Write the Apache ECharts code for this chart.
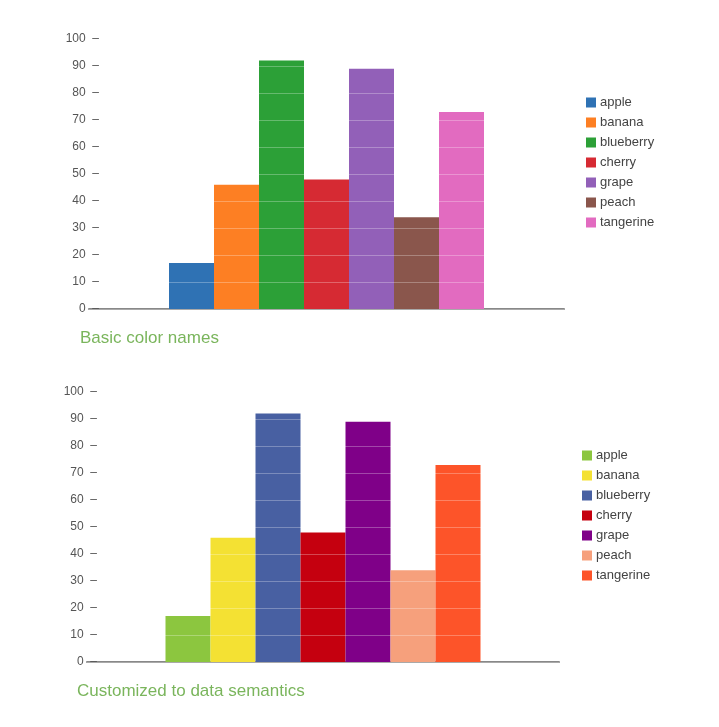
<!DOCTYPE html>
<html>
<head>
<meta charset="utf-8">
<script src="https://cdn.jsdelivr.net/npm/echarts@6/dist/echarts.min.js"></script>
<style>
  html, body { margin: 0; padding: 0; background: #fff; }
  #top, #bottom { width: 719px; height: 360px; }
  #bottom { height: 367px; }
</style>
</head>
<body>
<div id="top"></div>
<div id="bottom"></div>
<script>
// fruit data, same values for both charts
var fruits = ['apple', 'banana', 'blueberry', 'cherry', 'grape', 'peach', 'tangerine'];
var counts = [17, 46, 92, 48, 89, 34, 73];
var yTicks = [0, 10, 20, 30, 40, 50, 60, 70, 80, 90, 100];

// default palette vs. colours picked for the meaning of each fruit
var basicColors = ['#2f72b4', '#fd7f23', '#2ca037', '#d62a33', '#9260b8', '#8a564c', '#e26bc0'];
var semanticColors = ['#8cc63f', '#f4e133', '#4860a2', '#c5000f', '#7f0088', '#f6a07c', '#fd5429'];

function makeOption(colors, title, grid) {
    return {
        animation: false,
        textStyle: { fontFamily: 'Liberation Sans, Arial, sans-serif' },
        title: {
            text: title,
            left: grid.titleLeft,
            top: grid.titleTop,
            textStyle: { color: '#7ab55c', fontSize: 17, fontWeight: 'normal' }
        },
        legend: {
            orient: 'vertical',
            left: grid.legendLeft,
            top: grid.legendTop,
            icon: 'rect',
            itemWidth: 10,
            itemHeight: 10,
            itemGap: 7,
            textStyle: { color: '#444', fontSize: 13, padding: [0, 0, 0, -1] },
            data: fruits
        },
        grid: { left: grid.left, right: grid.right, top: grid.top, height: 270 },
        xAxis: {
            type: 'category',
            data: [''],
            axisLine: { lineStyle: { color: '#888', width: 2 } },
            axisTick: { show: false },
            axisLabel: { show: false }
        },
        yAxis: {
            type: 'value',
            min: yTicks[0],
            max: yTicks[yTicks.length - 1],
            interval: 10,
            z: 5,
            axisLine: { show: false },
            axisTick: { show: false },
            axisLabel: {
                color: '#555',
                fontSize: 12,
                margin: -10,
                formatter: '{value}  –'
            },
            splitLine: { lineStyle: { color: 'rgba(255,255,255,0.28)', width: 1 } }
        },
        series: fruits.map(function (name, i) {
            return {
                name: name,
                type: 'bar',
                data: [counts[i]],
                barWidth: 45,
                barGap: '0%',
                itemStyle: { color: colors[i] },
                emphasis: { disabled: true }
            };
        })
    };
}

var topChart = echarts.init(document.getElementById('top'));
topChart.setOption(makeOption(basicColors, 'Basic color names', {
    left: 89, right: 155, top: 39,
    legendLeft: 581, legendTop: 91,
    titleLeft: 75, titleTop: 325
}));

var bottomChart = echarts.init(document.getElementById('bottom'));
bottomChart.setOption(makeOption(semanticColors, 'Customized to data semantics', {
    left: 87, right: 160, top: 32,
    legendLeft: 577, legendTop: 84,
    titleLeft: 72, titleTop: 318
}));
</script>
</body>
</html>
